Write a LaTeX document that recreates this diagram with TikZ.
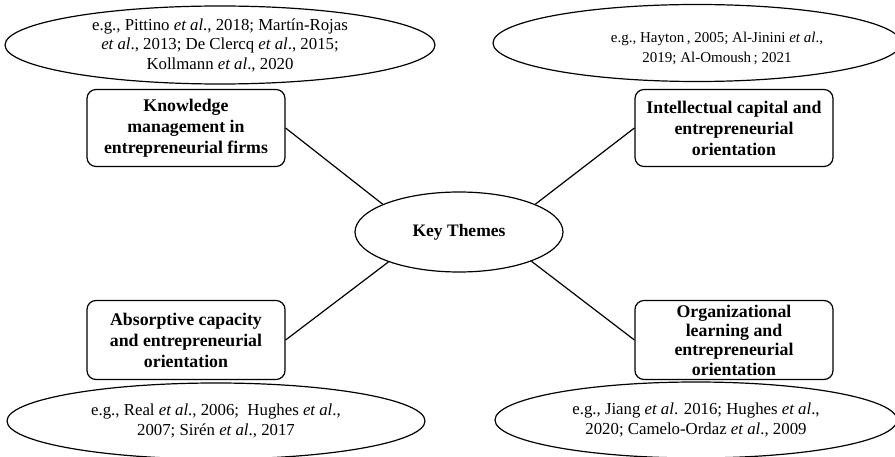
\documentclass[tikz,border=0pt]{standalone}
\usepackage{fontspec}
\setmainfont{Liberation Serif}
\usetikzlibrary{shapes.geometric}

\begin{document}
\begin{tikzpicture}[x=1pt, y=-1pt, line width=1.2pt,
  theme/.style={draw, rounded corners=9pt, align=center, font=\bfseries\fontsize{17.8}{21}\selectfont, minimum width=198pt, minimum height=77pt, inner sep=0pt},
  refs/.style={draw, ellipse, align=center, font=\fontsize{16.8}{19.5}\selectfont, inner sep=0pt}]

\useasboundingbox (0,0) rectangle (895,457);

\node [ellipse, draw, minimum width=208pt, minimum height=80pt, font=\bfseries\fontsize{17.5}{21}\selectfont] (key) at (459,232) {Key Themes};

\node [theme] (km) at (186,128) {Knowledge\\ management in\\ entrepreneurial firms};
\node [theme] (ic) at (734,128) {Intellectual capital and\\ entrepreneurial\\ orientation};
\node [theme, minimum height=79pt] (ac) at (186,340) {Absorptive capacity\\ and entrepreneurial\\ orientation};
\node [theme, minimum height=79pt, font=\bfseries\fontsize{17.8}{19.3}\selectfont] (ol) at (734,340) {Organizational\\ learning and\\ entrepreneurial\\ orientation};

\node [refs, minimum width=430pt, minimum height=78pt] (kmrefs) at (220,45) {e.g., Pittino \textit{et al}., 2018; Martín-Rojas\\ \textit{et al}., 2013; De Clercq \textit{et al}., 2015;\\ Kollmann \textit{et al}., 2020};
% text sits right of the ellipse centre here
\node [refs, minimum width=408pt, minimum height=77pt,
  label={[font=\fontsize{15}{20}\selectfont, align=center, xshift=20pt, yshift=-5pt]center:e.g., Hayton\,, 2005; Al-Jinini \textit{et al}.,\\ 2019; Al-Omoush\,; 2021}] (icrefs) at (697,43) {};
\node [refs, minimum width=418pt, minimum height=76pt] (acrefs) at (216,421) {e.g., Real \textit{et al}., 2006;\ \ Hughes \textit{et al}.,\\ 2007; Sirén \textit{et al}., 2017};
\node [refs, minimum width=402pt, minimum height=76pt] (olrefs) at (696,420) {e.g., Jiang \textit{et al}. 2016; Hughes \textit{et al}.,\\ 2020; Camelo-Ordaz \textit{et al}., 2009};

\draw (km.east) -- (key.160);
\draw (ic.west) -- (key.20);
\draw (ac.east) -- (key.203);
\draw (ol.west) -- (key.338);

\end{tikzpicture}
\end{document}
